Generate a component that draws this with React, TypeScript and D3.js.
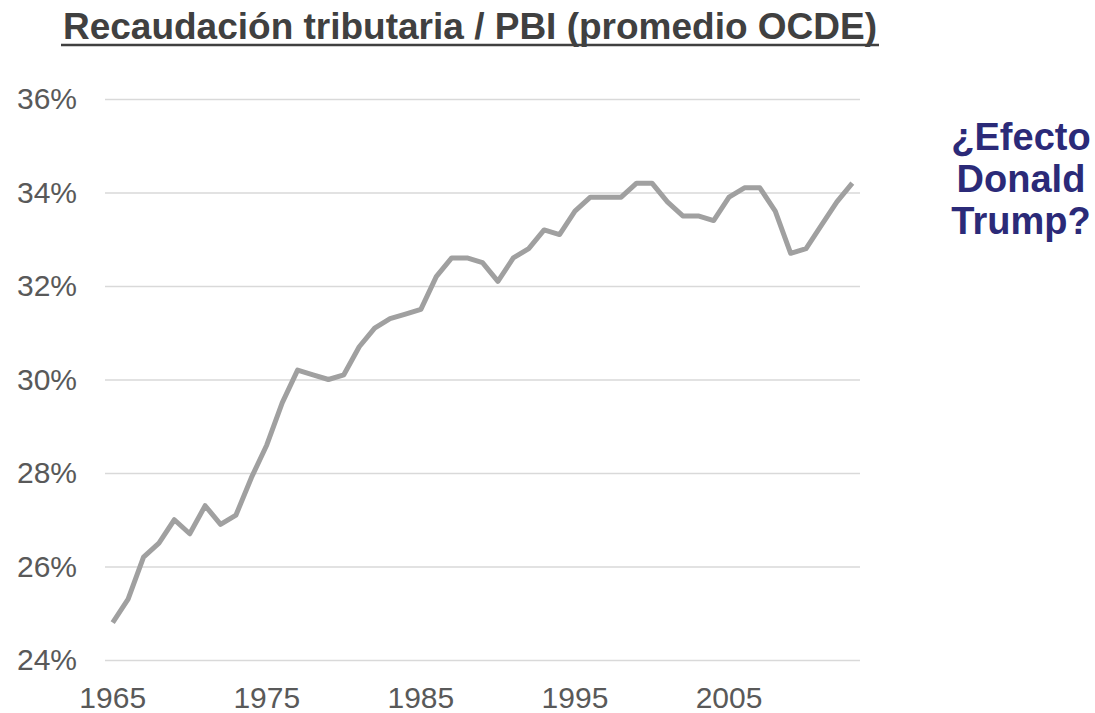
import React, { useRef, useEffect } from 'react';
import * as d3 from 'd3';

const years: number[] = d3.range(1965, 2014);
// recaudación tributaria / PBI, promedio OCDE (%)
const taxRatio: number[] = [
  24.8, 25.3, 26.2, 26.5, 27.0, 26.7, 27.3, 26.9, 27.1, 27.9,
  28.6, 29.5, 30.2, 30.1, 30.0, 30.1, 30.7, 31.1, 31.3, 31.4,
  31.5, 32.2, 32.6, 32.6, 32.5, 32.1, 32.6, 32.8, 33.2, 33.1,
  33.6, 33.9, 33.9, 33.9, 34.2, 34.2, 33.8, 33.5, 33.5, 33.4,
  33.9, 34.1, 34.1, 33.6, 32.7, 32.8, 33.3, 33.8, 34.2,
];
const yTicks: number[] = [24, 26, 28, 30, 32, 34, 36];
const xTickYears: number[] = [1965, 1975, 1985, 1995, 2005];
const title = 'Recaudación tributaria / PBI (promedio OCDE)';
const noteLines: string[] = ['¿Efecto', 'Donald', 'Trump?'];

const WIDTH = 1095;
const HEIGHT = 713;
const FONT = 'Liberation Sans, Arial, sans-serif';

export default function App() {
  const svgRef = useRef<SVGSVGElement | null>(null);

  useEffect(() => {
    if (!svgRef.current) return;
    const svg = d3.select(svgRef.current);
    svg.selectAll('*').remove();

    const margin = { top: 99, right: 235, bottom: 53, left: 105 };

    const xScale = d3
      .scaleBand<number>()
      .domain(years)
      .range([margin.left, WIDTH - margin.right]);

    const yScale = d3
      .scaleLinear()
      .domain([24, 36])
      .range([HEIGHT - margin.bottom, margin.top]);

    const xPos = (yr: number) => (xScale(yr) ?? 0) + xScale.bandwidth() / 2;

    // título subrayado
    svg
      .append('text')
      .attr('x', 470)
      .attr('y', 39)
      .attr('text-anchor', 'middle')
      .attr('font-family', FONT)
      .attr('font-weight', 'bold')
      .attr('font-size', 37)
      .attr('fill', '#404040')
      .text(title);

    svg
      .append('line')
      .attr('x1', 61)
      .attr('x2', 879)
      .attr('y1', 45)
      .attr('y2', 45)
      .attr('stroke', '#404040')
      .attr('stroke-width', 2.5);

    // grilla + eje Y
    const yAxis = svg
      .append('g')
      .attr('transform', `translate(${margin.left}, 0)`)
      .call(
        d3
          .axisLeft(yScale)
          .tickValues(yTicks)
          .tickSize(-(WIDTH - margin.left - margin.right))
          .tickPadding(28)
          .tickFormat((d) => `${d}%`)
      );
    yAxis.select('.domain').remove();
    yAxis.selectAll('line').attr('stroke', '#d9d9d9').attr('stroke-width', 1.5);
    yAxis
      .selectAll('text')
      .attr('fill', '#595959')
      .attr('font-size', 30)
      .attr('font-family', FONT);

    // eje X
    const xAxis = svg
      .append('g')
      .attr('transform', `translate(0, ${HEIGHT - margin.bottom})`)
      .call(d3.axisBottom(xScale).tickValues(xTickYears).tickSize(0).tickPadding(27));
    xAxis.select('.domain').remove();
    xAxis
      .selectAll('text')
      .attr('fill', '#595959')
      .attr('font-size', 30)
      .attr('font-family', FONT);

    // serie
    const line = d3
      .line<number>()
      .x((_, i) => xPos(years[i]))
      .y((d) => yScale(d));

    svg
      .append('path')
      .datum(taxRatio)
      .attr('fill', 'none')
      .attr('stroke', '#a0a0a0')
      .attr('stroke-width', 5)
      .attr('stroke-linejoin', 'round')
      .attr('d', line);

    // nota
    svg
      .append('g')
      .selectAll('text')
      .data(noteLines)
      .join('text')
      .attr('x', 1021)
      .attr('y', (_, i) => 150 + i * 42)
      .attr('text-anchor', 'middle')
      .attr('font-family', FONT)
      .attr('font-weight', 'bold')
      .attr('font-size', 38)
      .attr('fill', '#2b2a78')
      .text((d) => d);
  }, []);

  return (
    <svg
      ref={svgRef}
      width={WIDTH}
      height={HEIGHT}
      style={{ position: 'absolute', left: 0, top: 0, background: '#fff' }}
    />
  );
}
